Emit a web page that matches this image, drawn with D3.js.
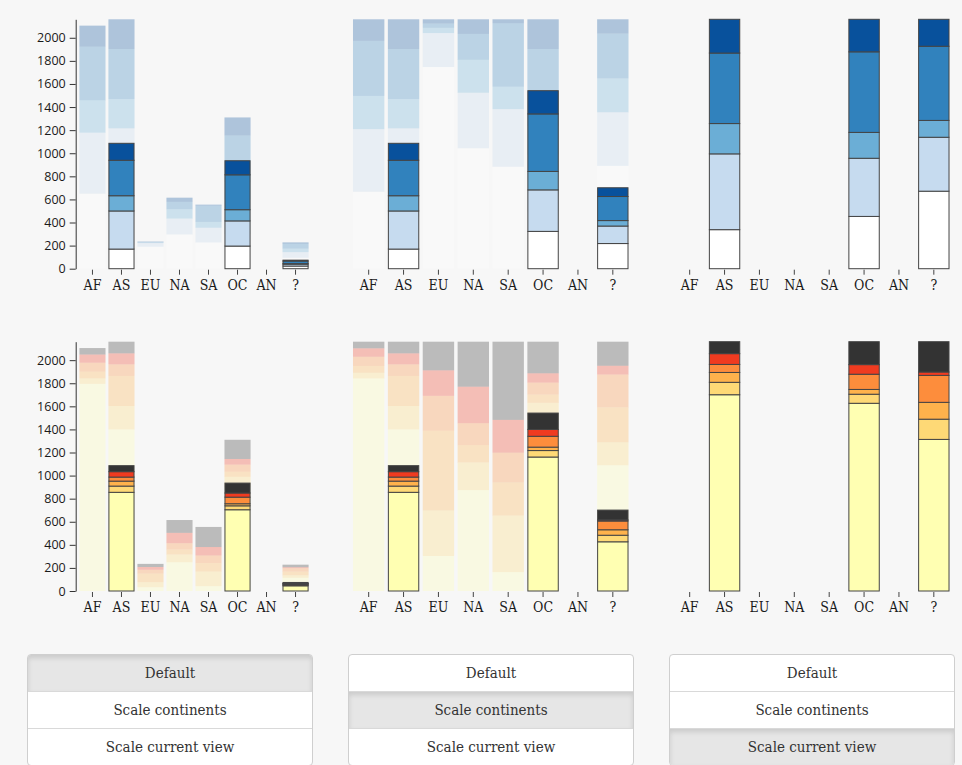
<!DOCTYPE html>
<html><head><meta charset="utf-8">
<script src="https://cdn.jsdelivr.net/npm/d3@7"></script>
<style>
html,body{margin:0;padding:0;background:#f7f7f7;}
body{width:962px;height:765px;overflow:hidden;position:relative;}
svg{position:absolute;left:0;top:0;}
.btn-group{position:absolute;width:286px;border:1px solid #cfcfcf;border-radius:4px;background:#fff;overflow:hidden;box-sizing:border-box;}
.btn{height:37px;line-height:36px;text-align:center;font-family:"DejaVu Serif Condensed","DejaVu Serif",serif;font-stretch:condensed;font-size:15px;color:#333;border-top:1px solid #d9d9d9;box-sizing:border-box;}
.btn:first-child{border-top:none;height:36px;}
.btn.active{background:#e6e6e6;box-shadow:inset 0 3px 5px rgba(0,0,0,0.12);}
</style></head><body>
<script>
// ---------- data ----------
const continents = ["AF","AS","EU","NA","SA","OC","AN","?"];
const yTickValues = [0,200,400,600,800,1000,1200,1400,1600,1800,2000];
const buttonLabels = ["Default","Scale continents","Scale current view"];

const blueColors = ["#ffffff","#c6dbef","#6baed6","#3182bd","#08519c"];
const heatColors = ["#ffffb2","#fed976","#feb24c","#fd8d3c","#f03b20","#333333"];

// top row: all items per continent (5 classes)
const topAll = [
  [650,528,280,465,182],
  [450,766,253,434,257],
  [190,32,5,4,4],
  [297,137,81,64,36],
  [227,128,50,141,9],
  [300,300,150,404,156],
  [0,0,0,0,0],
  [94,49,31,41,13]
];
// top row: selected items per continent
const topSel = [
  [0,0,0,0,0],
  [170,330,132,307,147],
  [0,0,0,0,0],
  [0,0,0,0,0],
  [0,0,0,0,0],
  [196,218,97,302,122],
  [0,0,0,0,0],
  [23,16,5,22,8]
];
// bottom row: all items per continent (6 classes)
const bottomAll = [
  [1795,48,57,78,71,56],
  [1400,203,260,101,95,101],
  [33,43,75,33,24,27],
  [249,68,43,54,90,111],
  [42,126,74,66,73,174],
  [900,89,44,62,49,166],
  [0,0,0,0,0,0],
  [115,21,32,30,8,22]
];
// bottom row: selected items per continent
const bottomSel = [
  [0,0,0,0,0,0],
  [855,54,43,35,47,52],
  [0,0,0,0,0,0],
  [0,0,0,0,0,0],
  [0,0,0,0,0,0],
  [704,34,18,57,36,86],
  [0,0,0,0,0,0],
  [45,6,5,8,1,9]
];

// ---------- layout ----------
const W = 962, H = 765;
const colX = [27, 348, 669];
const rows = [
  {top:19.3, bottom:268.7, all:topAll, sel:topSel, colors:blueColors},
  {top:341.7, bottom:591, all:bottomAll, sel:bottomSel, colors:heatColors}
];
const modes = ["default","continents","view"];

const svg = d3.select("body").append("svg").attr("width",W).attr("height",H);

const sum = a => d3.sum(a);

function stackOf(vals, factor){
  let acc = 0;
  return vals.map((v,i)=>{ const s={i, y0:acc*factor, y1:(acc+v)*factor}; acc+=v; return s; });
}

rows.forEach((row)=>{
  const maxTotal = d3.max(row.all, sum);
  modes.forEach((mode, mi)=>{
    const left = colX[mi] + (mi===0 ? 49.5 : 1.5);
    const right = colX[mi] + (mi===0 ? 284.5 : 284);
    const x = d3.scaleBand().domain(continents).range([left,right]).paddingInner(0.1).paddingOuter(0.1);
    const y = d3.scaleLinear().domain([0,maxTotal]).range([row.bottom,row.top]);
    const g = svg.append("g");

    // faded full stacks
    if(mode !== "view"){
      continents.forEach((c,ci)=>{
        const tot = sum(row.all[ci]);
        if(!tot) return;
        const f = mode==="continents" ? maxTotal/tot : 1;
        g.selectAll(null).data(stackOf(row.all[ci], f).filter(s=>s.y1>s.y0)).enter().append("rect")
          .attr("x", x(c)).attr("width", x.bandwidth())
          .attr("y", s=>y(s.y1)).attr("height", s=>y(s.y0)-y(s.y1))
          .attr("fill", s=>row.colors[s.i]).attr("fill-opacity",0.3);
      });
    }
    // highlighted selection stacks
    continents.forEach((c,ci)=>{
      const selTot = sum(row.sel[ci]);
      if(!selTot) return;
      const tot = sum(row.all[ci]);
      const f = mode==="continents" ? maxTotal/tot : (mode==="view" ? maxTotal/selTot : 1);
      g.selectAll(null).data(stackOf(row.sel[ci], f).filter(s=>s.y1>s.y0)).enter().append("rect")
        .attr("x", x(c)+0.5).attr("width", x.bandwidth()-1)
        .attr("y", s=>y(s.y1)).attr("height", s=>y(s.y0)-y(s.y1))
        .attr("fill", s=>row.colors[s.i]).attr("stroke","#444").attr("stroke-width",1);
    });

    // x axis
    const xa = g.append("g").attr("transform",`translate(0,${row.bottom+1})`)
      .call(d3.axisBottom(x).tickSize(5).tickSizeOuter(0).tickPadding(5));
    xa.select(".domain").remove();
    xa.selectAll(".tick line").attr("stroke","#444");
    xa.selectAll("text").attr("fill","#1a1a1a")
      .style("font-family",'"DejaVu Serif Condensed","DejaVu Serif",serif')
      .style("font-stretch","condensed").style("font-size","14px");

    // y axis on first column
    if(mi===0){
      const ya = g.append("g").attr("transform",`translate(${left-0.8},0)`)
        .call(d3.axisLeft(y).tickValues(yTickValues).tickFormat(d3.format("d"))
          .tickSize(6).tickSizeOuter(0).tickPadding(4));
      ya.select(".domain").attr("stroke","#333");
      ya.selectAll(".tick line").attr("stroke","#333");
      ya.selectAll("text").attr("fill","#1a1a1a")
        .style("font-family",'"Open Sans",sans-serif').style("font-size","12.5px");
    }
  });
});

// ---------- buttons ----------
modes.forEach((mode, mi)=>{
  const grp = d3.select("body").append("div").attr("class","btn-group")
    .style("left", colX[mi]+"px").style("top","654px");
  buttonLabels.forEach((lab, bi)=>{
    grp.append("div").attr("class","btn"+(bi===mi?" active":"")).text(lab);
  });
});
</script>
</body></html>
